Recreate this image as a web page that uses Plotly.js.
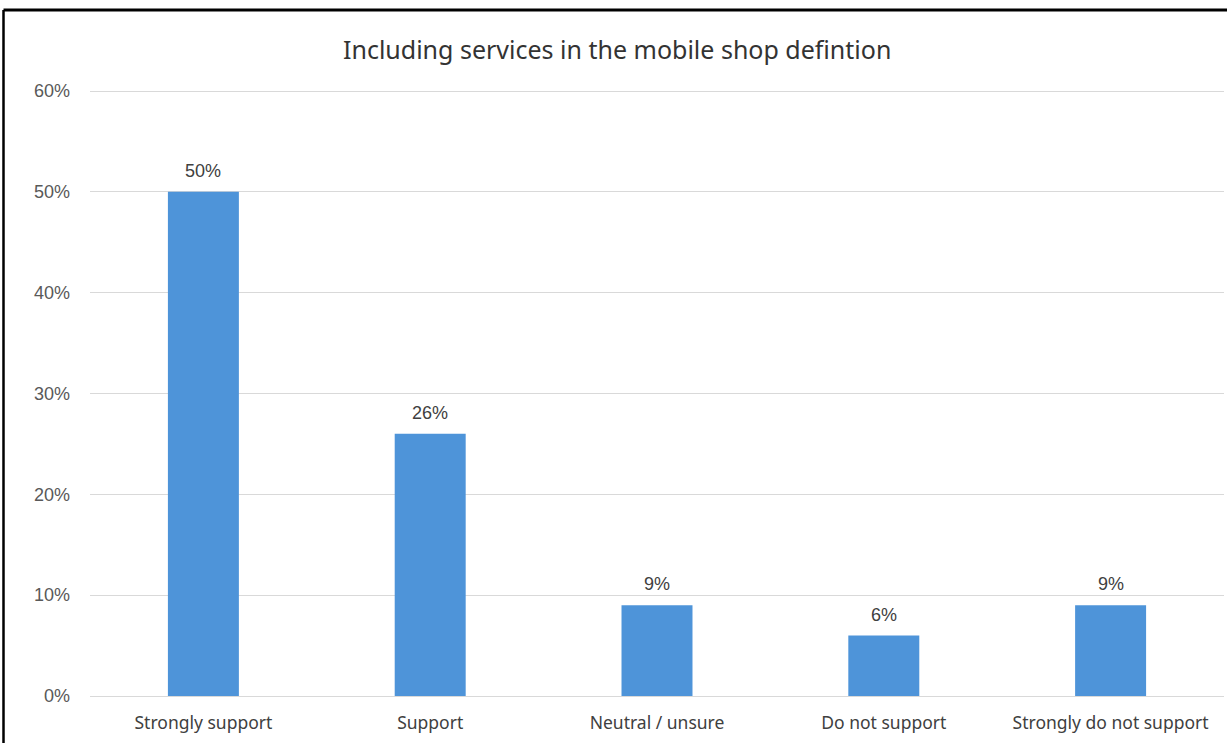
<!DOCTYPE html>
<html>
<head>
<meta charset="utf-8">
<script src="https://cdn.plot.ly/plotly-3.0.1.min.js"></script>
<style>html,body{margin:0;padding:0;background:#fff;}#chart{width:1227px;height:743px;}</style>
</head>
<body>
<div id="chart"></div>
<script>
const categories = ["Strongly support", "Support", "Neutral / unsure", "Do not support", "Strongly do not support"];
const values = [50, 26, 9, 6, 9];
const tickValues = [0, 10, 20, 30, 40, 50, 60];
const tickLabels = ["0%", "10%", "20%", "30%", "40%", "50%", "60%"];
const chartTitle = "Including services in the mobile shop defintion";

const W = 1227, H = 743;
const m = {l: 90, r: 3, t: 89, b: 47};
const pw = W - m.l - m.r, ph = H - m.t - m.b;
const px = x => (x - m.l) / pw;
const py = y => (H - m.b - y) / ph;

const trace = {
  type: 'bar',
  x: categories,
  y: values,
  marker: {color: '#4E94D9'},
  hoverinfo: 'none'
};

const labelAnnotations = categories.map((c, i) => ({
  x: c, y: values[i], xref: 'x', yref: 'y',
  text: values[i] + '%',
  showarrow: false,
  xanchor: 'center', yanchor: 'bottom',
  yshift: 9,
  font: {family: 'Liberation Sans, Arial, sans-serif', size: 18, color: '#404040'}
}));

const layout = {
  width: W, height: H,
  margin: m,
  paper_bgcolor: '#ffffff',
  plot_bgcolor: '#ffffff',
  showlegend: false,
  bargap: 0.687,
  title: {
    text: chartTitle,
    font: {family: 'Noto Sans, sans-serif', size: 25, color: '#333333'},
    x: 0.503, xanchor: 'center', xref: 'container',
    y: 1 - 50 / H, yanchor: 'middle', yref: 'container'
  },
  xaxis: {
    showgrid: false, zeroline: false, showline: false,
    ticks: '',
    ticklabelstandoff: 14,
    tickfont: {family: 'Noto Sans, sans-serif', size: 17.5, color: '#404040'},
    fixedrange: true
  },
  yaxis: {
    range: [0, 60.2],
    tickvals: tickValues,
    ticktext: tickLabels,
    showgrid: true, gridcolor: '#D9D9D9', gridwidth: 1,
    zeroline: true, zerolinecolor: '#D9D9D9', zerolinewidth: 1,
    showline: false, ticks: '',
    ticklabelstandoff: 19,
    tickfont: {family: 'Liberation Sans, Arial, sans-serif', size: 18, color: '#595959'},
    fixedrange: true
  },
  annotations: labelAnnotations,
  shapes: [
    {type: 'line', xref: 'paper', yref: 'paper', x0: px(3.5), x1: px(1240), y0: py(10), y1: py(10), line: {color: '#000000', width: 3}},
    {type: 'line', xref: 'paper', yref: 'paper', x0: px(3.5), x1: px(3.5), y0: py(10), y1: py(760), line: {color: '#000000', width: 2.5}}
  ]
};

Plotly.newPlot('chart', [trace], layout, {displayModeBar: false, staticPlot: true});
</script>
</body>
</html>
